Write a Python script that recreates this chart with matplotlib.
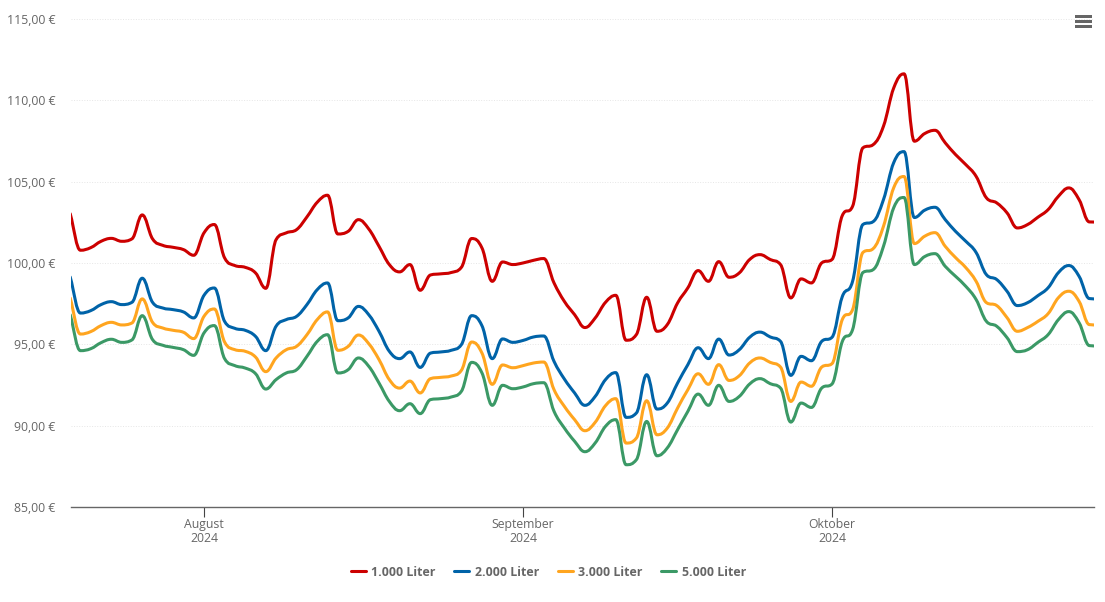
import matplotlib
matplotlib.use('Agg')
import matplotlib.pyplot as plt
import matplotlib.dates as mdates
from matplotlib.path import Path
from matplotlib.patches import PathPatch, Rectangle
import numpy as np
import pandas as pd

plt.rcParams['font.family'] = ['Open Sans', 'Noto Sans', 'DejaVu Sans']

dates = pd.date_range('2024-07-19', periods=101)

liter_1000 = [103.04, 100.79, 100.95, 101.34, 101.52, 101.34, 101.49, 102.96, 101.49, 101.09,
              100.97, 100.83, 100.48, 101.86, 102.37, 100.32, 99.85, 99.74, 99.40, 98.45,
              101.44, 101.86, 102.06, 102.84, 103.74, 104.17, 101.79, 101.95, 102.67, 102.10,
              101.03, 99.91, 99.46, 99.91, 98.33, 99.27, 99.34, 99.42, 99.74, 101.51,
              100.93, 98.88, 100.07, 99.91, 100.01, 100.17, 100.28, 98.78, 97.65, 96.83,
              96.04, 96.63, 97.59, 98.02, 95.26, 95.61, 97.90, 95.81, 96.22, 97.55,
              98.48, 99.54, 98.88, 100.09, 99.13, 99.40, 100.22, 100.52, 100.22, 99.91,
              97.86, 99.03, 98.78, 100.01, 100.22, 102.92, 103.49, 107.08, 107.28, 108.41,
              110.77, 111.63, 107.49, 107.96, 108.16, 107.39, 106.67, 106.05, 105.33, 104.01,
              103.70, 103.09, 102.16, 102.37, 102.82, 103.29, 104.11, 104.62, 103.90, 102.53,
              102.52]
liter_2000 = [99.15, 96.93, 97.08, 97.45, 97.63, 97.45, 97.59, 99.07, 97.59, 97.24,
              97.14, 97.00, 96.63, 98.02, 98.47, 96.42, 95.99, 95.87, 95.50, 94.62,
              96.12, 96.53, 96.73, 97.45, 98.37, 98.78, 96.46, 96.63, 97.34, 96.83,
              95.81, 94.58, 94.13, 94.54, 93.59, 94.47, 94.54, 94.64, 94.99, 96.77,
              96.15, 94.13, 95.34, 95.13, 95.25, 95.46, 95.52, 93.96, 92.88, 92.02,
              91.26, 91.81, 92.84, 93.27, 90.52, 90.79, 93.14, 91.03, 91.40, 92.63,
              93.76, 94.80, 94.13, 95.33, 94.35, 94.68, 95.44, 95.76, 95.46, 95.19,
              93.10, 94.27, 94.00, 95.19, 95.44, 97.94, 98.88, 102.37, 102.55, 103.90,
              106.18, 106.85, 102.80, 103.25, 103.43, 102.67, 101.95, 101.34, 100.65, 99.29,
              98.99, 98.27, 97.39, 97.57, 98.00, 98.49, 99.42, 99.85, 99.19, 97.82,
              97.79]
liter_3000 = [97.86, 95.64, 95.79, 96.16, 96.36, 96.20, 96.32, 97.80, 96.36, 96.01,
              95.87, 95.75, 95.36, 96.73, 97.18, 95.15, 94.68, 94.58, 94.23, 93.33,
              94.17, 94.68, 94.89, 95.60, 96.53, 97.00, 94.64, 94.88, 95.58, 95.05,
              94.07, 92.84, 92.32, 92.75, 92.02, 92.90, 92.98, 93.06, 93.41, 95.15,
              94.47, 92.55, 93.74, 93.57, 93.70, 93.86, 93.92, 92.22, 91.20, 90.38,
              89.70, 90.22, 91.24, 91.67, 88.94, 89.25, 91.54, 89.45, 89.86, 91.09,
              92.22, 93.20, 92.55, 93.76, 92.79, 93.08, 93.86, 94.17, 93.90, 93.61,
              91.50, 92.69, 92.43, 93.61, 93.82, 96.53, 97.14, 100.65, 100.89, 102.26,
              104.64, 105.32, 101.20, 101.65, 101.87, 101.03, 100.34, 99.72, 98.88, 97.57,
              97.39, 96.65, 95.81, 96.04, 96.42, 96.90, 97.88, 98.27, 97.65, 96.22,
              96.19]
liter_5000 = [96.83, 94.62, 94.74, 95.11, 95.32, 95.13, 95.28, 96.77, 95.30, 94.95,
              94.82, 94.68, 94.33, 95.71, 96.16, 94.13, 93.70, 93.55, 93.21, 92.26,
              92.84, 93.25, 93.45, 94.27, 95.19, 95.60, 93.25, 93.45, 94.17, 93.66,
              92.63, 91.50, 90.93, 91.36, 90.75, 91.61, 91.67, 91.77, 92.12, 93.90,
              93.25, 91.26, 92.49, 92.28, 92.39, 92.59, 92.65, 90.89, 89.87, 89.05,
              88.41, 88.95, 89.97, 90.38, 87.61, 87.92, 90.27, 88.16, 88.64, 89.76,
              90.89, 91.95, 91.26, 92.49, 91.50, 91.81, 92.57, 92.90, 92.59, 92.32,
              90.23, 91.40, 91.13, 92.32, 92.57, 95.18, 95.91, 99.42, 99.60, 101.03,
              103.41, 104.03, 99.91, 100.40, 100.58, 99.80, 99.19, 98.57, 97.76, 96.42,
              96.12, 95.42, 94.56, 94.68, 95.13, 95.61, 96.53, 97.02, 96.34, 94.93,
              94.90]

series = [liter_1000, liter_2000, liter_3000, liter_5000]
names = ['1.000 Liter', '2.000 Liter', '3.000 Liter', '5.000 Liter']
colors = ['#CC0000', '#0063A8', '#FFA51F', '#3B9966']

y_ticks = [85, 90, 95, 100, 105, 110, 115]
y_labels = ['85,00 €', '90,00 €', '95,00 €', '100,00 €', '105,00 €', '110,00 €', '115,00 €']
x_ticks = ['2024-08-01', '2024-09-01', '2024-10-01']
x_labels = ['August\n2024', 'September\n2024', 'Oktober\n2024']


# same smoothing as a highcharts spline
def spline_path(x, y):
    n = len(x)
    left = np.zeros(n)
    right = np.zeros(n)
    lx = np.zeros(n)
    rx = np.zeros(n)
    for i in range(n):
        xp, yp = x[max(i - 1, 0)], y[max(i - 1, 0)]
        xn, yn = x[min(i + 1, n - 1)], y[min(i + 1, n - 1)]
        lx[i] = (1.5 * x[i] + xp) / 2.5
        rx[i] = (1.5 * x[i] + xn) / 2.5
        ly = (1.5 * y[i] + yp) / 2.5
        ry = (1.5 * y[i] + yn) / 2.5
        if rx[i] != lx[i]:
            corr = (ry - ly) * (rx[i] - x[i]) / (rx[i] - lx[i]) + y[i] - ry
            ly += corr
            ry += corr
        if ly > yp and ly > y[i]:
            ly = max(yp, y[i])
            ry = 2 * y[i] - ly
        elif ly < yp and ly < y[i]:
            ly = min(yp, y[i])
            ry = 2 * y[i] - ly
        if ry > yn and ry > y[i]:
            ry = max(yn, y[i])
            ly = 2 * y[i] - ry
        elif ry < yn and ry < y[i]:
            ry = min(yn, y[i])
            ly = 2 * y[i] - ry
        left[i] = ly
        right[i] = ry
    verts = [(x[0], y[0])]
    codes = [Path.MOVETO]
    for i in range(1, n):
        verts += [(rx[i - 1], right[i - 1]), (lx[i], left[i]), (x[i], y[i])]
        codes += [Path.CURVE4] * 3
    return Path(verts, codes)


fig = plt.figure(figsize=(11.05, 6.02), dpi=100)
ax = fig.add_axes([71 / 1105, 1 - 507.2 / 602, 1023 / 1105, 488.2 / 602])

x = mdates.date2num(dates)
for vals, name, col in zip(series, names, colors):
    patch = PathPatch(spline_path(x, np.array(vals)), fill=False, edgecolor=col, lw=2.2,
                      capstyle='round', joinstyle='round', zorder=3)
    ax.add_patch(patch)
    ax.plot([], [], color=col, lw=2.2, solid_capstyle='round', label=name)

aug = mdates.date2num(pd.Timestamp('2024-08-01'))
ax.set_xlim(aug - 12.92, aug + 86.45)
ax.set_ylim(85, 115)

ax.set_yticks(y_ticks, y_labels)
ax.set_xticks(mdates.date2num(pd.to_datetime(x_ticks)), x_labels)
ax.tick_params(axis='y', length=0, pad=11.5, labelsize=8.8, labelcolor='#666666')
ax.tick_params(axis='x', length=7, width=0.8, color='#444444', pad=0.5, labelsize=8.8, labelcolor='#666666')
for lab in ax.get_xticklabels():
    lab.set_linespacing(1.18)

ax.grid(axis='y', color='#e6e6e6', lw=0.7, ls=':')
ax.set_axisbelow(True)
for s in ['top', 'left', 'right']:
    ax.spines[s].set_visible(False)
ax.spines['bottom'].set_color('#666666')
ax.spines['bottom'].set_linewidth(1.0)

leg = fig.legend(loc='center', bbox_to_anchor=(548.5 / 1105, 1 - 572 / 602), ncol=4, frameon=False,
                 handlelength=1.2, handletextpad=0.45, columnspacing=1.5,
                 prop={'size': 8.9, 'weight': 'bold'}, labelcolor='#666666')

# menu icon top right
for yy in [16, 21.3, 26.7]:
    fig.add_artist(Rectangle((1075 / 1105, 1 - (yy + 1.5) / 602), 17 / 1105, 3 / 602,
                             transform=fig.transFigure, color='#666666', lw=0))

fig.savefig('out.png', dpi=100)
